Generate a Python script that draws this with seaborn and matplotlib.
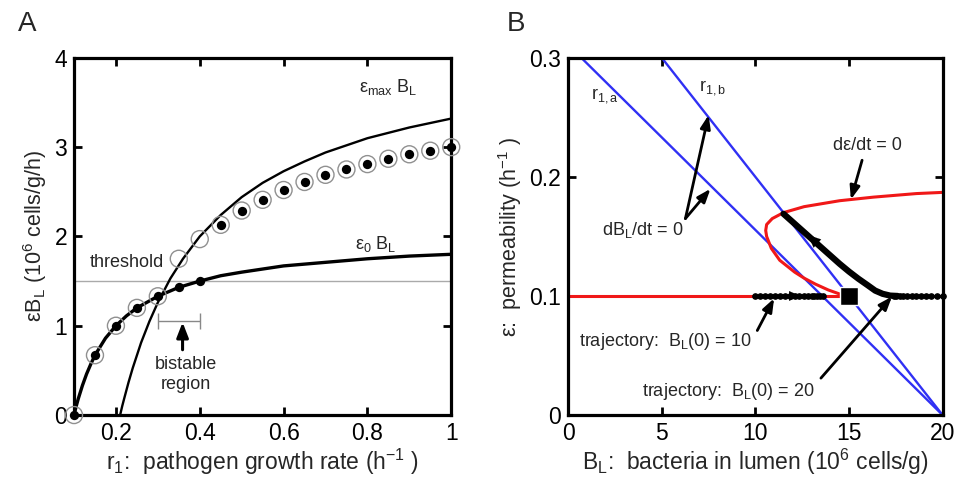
import numpy as np
import pandas as pd
import matplotlib
matplotlib.use("Agg")
import matplotlib.pyplot as plt
import seaborn as sns

# ---------------- data: panel A ----------------
r_e0 = [0.10, 0.105, 0.11, 0.12, 0.13, 0.14, 0.15, 0.175, 0.20, 0.225, 0.25, 0.30, 0.35, 0.40, 0.45, 0.50, 0.60, 0.70, 0.80, 0.90, 1.00]
y_e0 = [0.00, 0.095, 0.18, 0.33, 0.46, 0.57, 0.67, 0.86, 1.00, 1.11, 1.20, 1.33, 1.43, 1.50, 1.56, 1.60, 1.67, 1.71, 1.75, 1.78, 1.80]

r_emax = [0.21, 0.215, 0.22, 0.23, 0.24, 0.26, 0.28, 0.30, 0.33, 0.36, 0.40, 0.45, 0.50, 0.55, 0.60, 0.65, 0.70, 0.75, 0.80, 0.90, 1.00]
y_emax = [0.00, 0.10, 0.19, 0.365, 0.525, 0.81, 1.05, 1.26, 1.53, 1.75, 2.00, 2.24, 2.44, 2.60, 2.73, 2.84, 2.94, 3.02, 3.10, 3.22, 3.32]

r_open = [0.10, 0.15, 0.20, 0.25, 0.30, 0.35, 0.40, 0.45, 0.50, 0.55, 0.60, 0.65, 0.70, 0.75, 0.80, 0.85, 0.90, 0.95, 1.00]
y_open = [0.00, 0.67, 1.00, 1.20, 1.33, 1.75, 1.97, 2.13, 2.29, 2.41, 2.52, 2.61, 2.69, 2.75, 2.81, 2.87, 2.92, 2.96, 3.00]

r_fill = [0.10, 0.15, 0.20, 0.25, 0.30, 0.35, 0.40, 0.45, 0.50, 0.55, 0.60, 0.65, 0.70, 0.75, 0.80, 0.85, 0.90, 0.95, 1.00]
y_fill = [0.00, 0.67, 1.00, 1.20, 1.33, 1.43, 1.50, 2.13, 2.29, 2.41, 2.52, 2.61, 2.69, 2.75, 2.81, 2.87, 2.92, 2.96, 3.00]

threshold = 1.5
bistable_lo, bistable_hi, bistable_y = 0.30, 0.40, 1.05

a_xticks = [0.2, 0.4, 0.6, 0.8, 1.0]
a_xticklabels = ["0.2", "0.4", "0.6", "0.8", "1"]
a_yticks = [0, 1, 2, 3, 4]
a_yticklabels = ["0", "1", "2", "3", "4"]

# ---------------- data: panel B ----------------
line_a_B = [0.7, 20.0]
line_a_eps = [0.30, 0.0]
line_b_B = [5.0, 20.0]
line_b_eps = [0.30, 0.0]

null_flat_B = [0.0, 14.8]
null_flat_eps = [0.10, 0.10]
null_curve_eps = [0.100, 0.105, 0.110, 0.115, 0.120, 0.130, 0.140, 0.150, 0.155, 0.160, 0.165, 0.170, 0.175, 0.180, 0.183, 0.186, 0.187]
null_curve_B = [14.8, 13.9, 13.2, 12.6, 12.1, 11.3, 10.85, 10.6, 10.55, 10.6, 10.9, 11.5, 12.6, 14.5, 16.3, 18.6, 20.0]

traj10_B = [10.0, 10.27, 10.53, 10.8, 11.07, 11.34, 11.6, 11.85, 12.1, 12.35, 12.6, 12.8, 13.0, 13.15, 13.3, 13.45, 13.6]
traj10_eps = [0.10] * 17

traj20_B = [20.0, 19.7, 19.4, 19.1, 18.85, 18.6, 18.35, 18.1, 17.9, 17.7, 17.5, 17.4]
traj20_eps = [0.10] * 12
traj20_curve_B = [17.6, 17.2, 16.8, 16.4, 16.0, 15.5, 15.0, 14.5, 14.0, 13.5, 13.0, 12.5, 12.0, 11.5]
traj20_curve_eps = [0.100, 0.1003, 0.1018, 0.1045, 0.109, 0.1145, 0.1205, 0.127, 0.134, 0.141, 0.148, 0.155, 0.162, 0.169]

steady_B, steady_eps = [15.0], [0.10]

b_xticks = [0, 5, 10, 15, 20]
b_yticks = [0, 0.1, 0.2, 0.3]
b_yticklabels = ["0", "0.1", "0.2", "0.3"]

# ---------------- style ----------------
sns.set_style("ticks")
plt.rcParams['font.family'] = ['Liberation Sans', 'DejaVu Sans']
plt.rcParams['mathtext.fontset'] = 'custom'
plt.rcParams['mathtext.rm'] = 'Liberation Sans'
plt.rcParams['mathtext.it'] = 'Liberation Sans'
plt.rcParams['mathtext.default'] = 'regular'

BLUE = '#3030f4'
RED = '#f01818'
FS_TICK = 16.5
FS_XLAB = 16.5
FS_YLAB = 15.5
FS_TXT = 13

fig = plt.figure(figsize=(9.55, 4.86), dpi=100)
axA = fig.add_axes([0.0775, 0.146, 0.395, 0.735])
axB = fig.add_axes([0.595, 0.146, 0.392, 0.735])

def style_axes(ax):
    for s in ax.spines.values():
        s.set_linewidth(2.3)
        s.set_color('black')
        s.set_visible(True)
    ax.tick_params(direction='in', length=6, width=2, top=True, right=True,
                   labelsize=FS_TICK, pad=5, colors='black')

def line(ax, x, y, **kw):
    sns.lineplot(x=x, y=y, ax=ax, sort=False, estimator=None, **kw)

# ---------- panel A ----------
axA.axhline(threshold, color='#aaaaaa', lw=1.0, zorder=1)
line(axA, r_e0, y_e0, color='black', lw=2.4, zorder=3)
line(axA, r_emax, y_emax, color='black', lw=1.7, zorder=3)
sns.scatterplot(x=r_open, y=y_open, ax=axA, s=150, facecolor='none', edgecolor='#909090',
                linewidth=1.0, zorder=4, clip_on=False)
sns.scatterplot(x=r_fill, y=y_fill, ax=axA, s=45, color='black', edgecolor='black',
                linewidth=0, zorder=5, clip_on=False)
axA.errorbar([(bistable_lo + bistable_hi) / 2], [bistable_y], xerr=[(bistable_hi - bistable_lo) / 2],
             color='#888888', lw=1.0, capsize=6, capthick=1.0, zorder=2)
axA.annotate('', xy=(0.359, 1.07), xytext=(0.359, 0.70),
             arrowprops=dict(arrowstyle='-|>,head_length=0.9,head_width=0.35', color='black', lw=2.2))
axA.text(0.367, 0.57, 'bistable', ha='center', va='center', fontsize=FS_TXT)
axA.text(0.367, 0.34, 'region', ha='center', va='center', fontsize=FS_TXT)
axA.text(0.225, 1.71, 'threshold', ha='center', va='center', fontsize=FS_TXT)
axA.text(0.78, 3.67, r'ε$_{max}$ B$_L$', ha='left', va='center', fontsize=FS_TXT)
axA.text(0.77, 1.91, r'ε$_0$ B$_L$', ha='left', va='center', fontsize=FS_TXT)

axA.set_xlim(0.1, 1.0)
axA.set_ylim(0, 4)
axA.set_xticks(a_xticks)
axA.set_xticklabels(a_xticklabels)
axA.set_yticks(a_yticks)
axA.set_yticklabels(a_yticklabels)
axA.set_xlabel(r'r$_1$:  pathogen growth rate (h$^{-1}$ )', fontsize=FS_XLAB, labelpad=1)
axA.set_ylabel(r'εB$_L$ (10$^6$ cells/g/h)', fontsize=FS_YLAB, labelpad=4)
style_axes(axA)

# ---------- panel B ----------
line(axB, line_a_B, line_a_eps, color=BLUE, lw=1.7, zorder=2)
line(axB, line_b_B, line_b_eps, color=BLUE, lw=1.7, zorder=2)
line(axB, null_flat_B, null_flat_eps, color=RED, lw=2.2, zorder=2)
line(axB, null_curve_B, null_curve_eps, color=RED, lw=2.2, zorder=2)

axB.plot(traj10_B, traj10_eps, color='black', lw=2.0, marker='o', ms=3.8, zorder=4)
axB.plot(traj20_B, traj20_eps, color='black', lw=2.0, marker='o', ms=3.8, zorder=4, clip_on=False)
line(axB, traj20_curve_B, traj20_curve_eps, color='black', lw=4.5, zorder=4)
sns.scatterplot(x=steady_B, y=steady_eps, ax=axB, marker='s', s=160, color='black', zorder=6)

# direction arrowheads on trajectories
axB.annotate('', xy=(12.55, 0.10), xytext=(11.9, 0.10),
             arrowprops=dict(arrowstyle='-|>,head_length=0.8,head_width=0.35', color='black', lw=0.1))
axB.annotate('', xy=(12.7, 0.1528), xytext=(13.3, 0.1442),
             arrowprops=dict(arrowstyle='-|>,head_length=0.9,head_width=0.4', color='black', lw=0.1))

arrow_kw = dict(arrowstyle='-|>,head_length=0.8,head_width=0.3', color='black', lw=2.0, shrinkA=0, shrinkB=0)
axB.annotate('', xy=(7.5, 0.252), xytext=(6.26, 0.165), arrowprops=arrow_kw)
axB.annotate('', xy=(7.6, 0.190), xytext=(6.26, 0.165), arrowprops=arrow_kw)
axB.annotate('', xy=(15.1, 0.181), xytext=(15.7, 0.214), arrowprops=arrow_kw)
axB.annotate('', xy=(11.0, 0.098), xytext=(10.1, 0.071), arrowprops=arrow_kw)
axB.annotate('', xy=(17.3, 0.0995), xytext=(13.5, 0.031), arrowprops=arrow_kw)

axB.text(4.0, 0.155, r'dB$_L$/dt = 0', ha='center', va='center', fontsize=FS_TXT)
axB.text(16.0, 0.226, 'dε/dt = 0', ha='center', va='center', fontsize=FS_TXT)
axB.text(5.2, 0.062, r'trajectory:  B$_L$(0) = 10', ha='center', va='center', fontsize=FS_TXT)
axB.text(8.55, 0.020, r'trajectory:  B$_L$(0) = 20', ha='center', va='center', fontsize=FS_TXT)
axB.text(1.2, 0.268, r'r$_{1,a}$', ha='left', va='center', fontsize=FS_TXT)
axB.text(7.0, 0.275, r'r$_{1,b}$', ha='left', va='center', fontsize=FS_TXT)

axB.set_xlim(0, 20)
axB.set_ylim(0, 0.3)
axB.set_xticks(b_xticks)
axB.set_yticks(b_yticks)
axB.set_yticklabels(b_yticklabels)
axB.set_xlabel(r'B$_L$:  bacteria in lumen (10$^6$ cells/g)', fontsize=FS_XLAB, labelpad=1)
axB.set_ylabel(r'ε:  permeability (h$^{-1}$ )', fontsize=FS_YLAB, labelpad=4)
style_axes(axB)

fig.text(0.019, 0.95, 'A', fontsize=20, ha='left', va='center')
fig.text(0.531, 0.95, 'B', fontsize=20, ha='left', va='center')

fig.savefig('out.png', dpi=100)
